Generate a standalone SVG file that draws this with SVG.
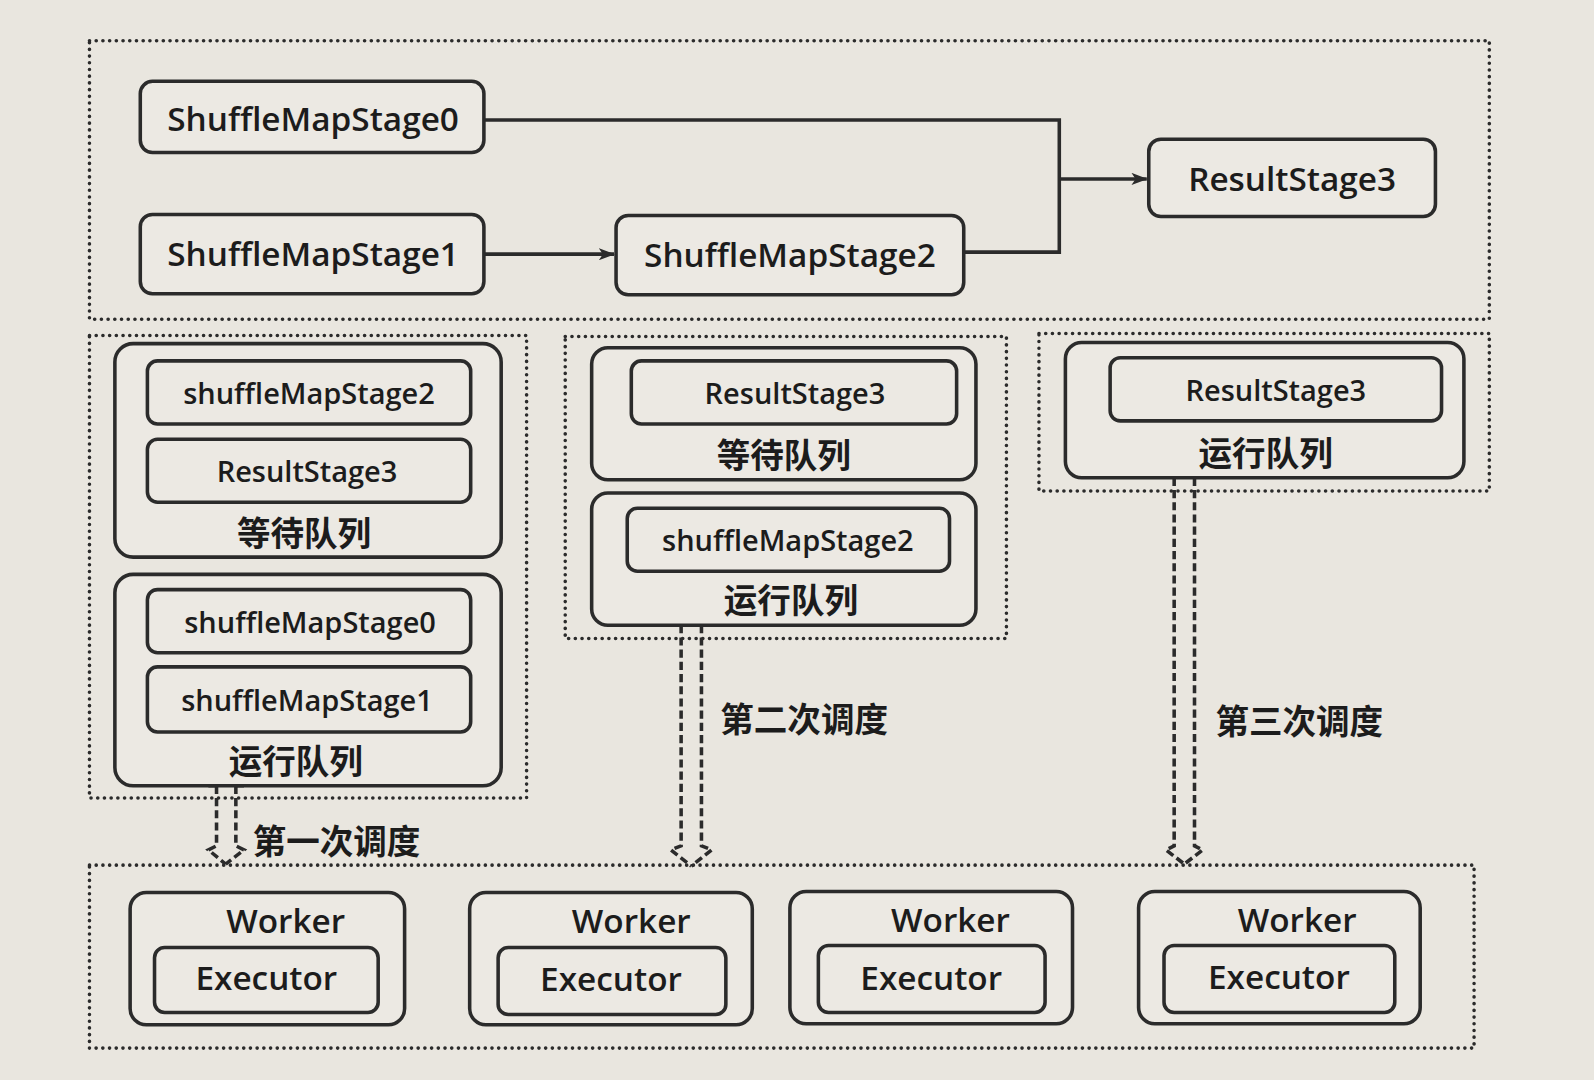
<svg xmlns="http://www.w3.org/2000/svg" width="1594" height="1080" viewBox="0 0 1594 1080">
<defs>
<style>
.bg{fill:#e9e6df}
.dot{fill:none;stroke:#2b2b2b;stroke-width:3.5;stroke-dasharray:0.1 6.5;stroke-linecap:round}
.box{fill:#ece9e3;stroke:#2b2b2b;stroke-width:3.5}
.line{fill:none;stroke:#2b2b2b;stroke-width:3.5}
.dash{fill:none;stroke:#2b2b2b;stroke-width:3.5;stroke-dasharray:8 4}
.t{font-family:"Open Sans","Noto Sans CJK SC",sans-serif;font-weight:600;fill:#1c1c1c;text-anchor:middle;dominant-baseline:central}
.big{font-size:32.8px}
.mid{font-size:28.5px}
.cn{font-family:"Noto Sans CJK SC",sans-serif;font-weight:bold;font-size:33px}
</style>
<marker id="ah" viewBox="0 0 16 12" refX="15" refY="6" markerWidth="16" markerHeight="12" markerUnits="userSpaceOnUse" orient="auto">
<path d="M0,0 L16,6 L0,12 L4,6 Z" fill="#2b2b2b"/>
</marker>
</defs>
<rect class="bg" x="0" y="0" width="1594" height="1080"/>
<g transform="scale(1.0166)">
<g id="containers">
<rect class="dot" x="88" y="40" width="1377" height="274"/>
<rect class="dot" x="88" y="330" width="430" height="455"/>
<rect class="dot" x="556" y="331" width="434" height="297"/>
<rect class="dot" x="1022" y="328" width="443" height="155"/>
<rect class="dot" x="88" y="851" width="1362" height="180"/>
</g>

<g id="connectors">
<polyline class="line" points="476,118 1042,118 1042,248 948,248"/>
<line class="line" x1="1042" y1="176" x2="1128" y2="176" marker-end="url(#ah)"/>
<line class="line" x1="476" y1="250" x2="604" y2="250" marker-end="url(#ah)"/>
<path class="line" d="M205,773 H213 M232,773 H240"/>
<path class="dash" d="M213,773 V832 L205,836 L222,850"/>
<path class="dash" d="M232,773 V832 L240,836 L222,850"/>
<path class="dash" d="M670,615 V832 L660,836 L680,852"/>
<path class="dash" d="M690,615 V832 L700,836 L680,852"/>
<path class="dash" d="M1155,470 V832 L1147,836 L1165,850"/>
<path class="dash" d="M1175,470 V832 L1183,836 L1165,850"/>
<text class="t cn" x="331" y="826">第一次调度</text>
<text class="t cn" x="791" y="706">第二次调度</text>
<text class="t cn" x="1278" y="708">第三次调度</text>
</g>

<g id="ShuffleMapStage0"><rect class="box" x="138" y="80" width="338" height="70" rx="12"/><text class="t big" x="308" y="116">ShuffleMapStage0</text></g>
<g id="ShuffleMapStage1"><rect class="box" x="138" y="211" width="338" height="78" rx="12"/><text class="t big" x="308" y="249">ShuffleMapStage1</text></g>
<g id="ShuffleMapStage2"><rect class="box" x="606" y="212" width="342" height="78" rx="12"/><text class="t big" x="777" y="250">ShuffleMapStage2</text></g>
<g id="ResultStage3"><rect class="box" x="1130" y="137" width="282" height="76" rx="12"/><text class="t big" x="1271" y="175">ResultStage3</text></g>

<g id="q1-wait">
<rect class="box" x="113" y="338" width="380" height="210" rx="18"/>
<rect class="box" x="145" y="355" width="318" height="62" rx="10"/>
<text class="t mid" x="304" y="386">shuffleMapStage2</text>
<rect class="box" x="145" y="432" width="318" height="62" rx="10"/>
<text class="t mid" x="302" y="463">ResultStage3</text>
<text class="t cn" x="299" y="523">等待队列</text>
</g>
<g id="q1-run">
<rect class="box" x="113" y="565" width="380" height="208" rx="18"/>
<rect class="box" x="145" y="580" width="318" height="62" rx="10"/>
<text class="t mid" x="305" y="611">shuffleMapStage0</text>
<rect class="box" x="145" y="656" width="318" height="64" rx="10"/>
<text class="t mid" x="302" y="688">shuffleMapStage1</text>
<text class="t cn" x="291" y="747">运行队列</text>
</g>

<g id="q2-wait">
<rect class="box" x="582" y="342" width="378" height="130" rx="16"/>
<rect class="box" x="621" y="355" width="320" height="62" rx="10"/>
<text class="t mid" x="782" y="386">ResultStage3</text>
<text class="t cn" x="771" y="446">等待队列</text>
</g>
<g id="q2-run">
<rect class="box" x="582" y="485" width="378" height="130" rx="16"/>
<rect class="box" x="617" y="500" width="317" height="62" rx="10"/>
<text class="t mid" x="775" y="531">shuffleMapStage2</text>
<text class="t cn" x="778" y="589">运行队列</text>
</g>

<g id="q3-run">
<rect class="box" x="1048" y="337" width="392" height="133" rx="16"/>
<rect class="box" x="1092" y="352" width="326" height="62" rx="10"/>
<text class="t mid" x="1255" y="383">ResultStage3</text>
<text class="t cn" x="1245" y="444">运行队列</text>
</g>

<g id="worker1">
<rect class="box" x="128" y="878" width="270" height="130" rx="16"/>
<text class="t big" x="281" y="905">Worker</text>
<rect class="box" x="152" y="932" width="220" height="64" rx="10"/>
<text class="t big" x="262" y="961">Executor</text>
</g>
<g id="worker2">
<rect class="box" x="462" y="878" width="278" height="130" rx="16"/>
<text class="t big" x="621" y="905">Worker</text>
<rect class="box" x="490" y="932" width="224" height="66" rx="10"/>
<text class="t big" x="601" y="962">Executor</text>
</g>
<g id="worker3">
<rect class="box" x="777" y="877" width="278" height="130" rx="16"/>
<text class="t big" x="935" y="904">Worker</text>
<rect class="box" x="805" y="930" width="223" height="66" rx="10"/>
<text class="t big" x="916" y="961">Executor</text>
</g>
<g id="worker4">
<rect class="box" x="1120" y="877" width="277" height="130" rx="16"/>
<text class="t big" x="1276" y="904">Worker</text>
<rect class="box" x="1145" y="930" width="227" height="66" rx="10"/>
<text class="t big" x="1258" y="960">Executor</text>
</g>
</g>
</svg>
